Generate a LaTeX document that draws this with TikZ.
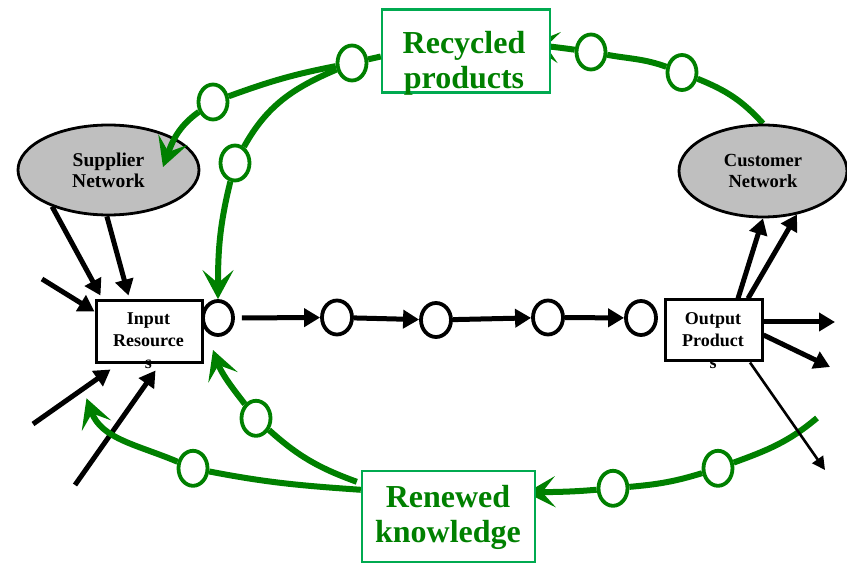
\documentclass[tikz,border=0pt]{standalone}
\usepackage{fontspec}
\setmainfont{Liberation Serif}
\usetikzlibrary{arrows.meta,shapes.geometric,backgrounds}

\definecolor{leafgreen}{RGB}{0,128,0}
\definecolor{framegreen}{RGB}{0,170,80}

\begin{document}
\begin{tikzpicture}[x=1pt,y=1pt,
  blk/.style={line width=5pt, -{Triangle[length=16pt,width=18pt]}},
  thinblk/.style={line width=2.6pt, -{Triangle[length=13pt,width=13pt]}},
  grn/.style={line width=6pt, leafgreen, -{Stealth[length=29pt,width=31pt,inset=13pt]}},
  grnplain/.style={line width=6pt, leafgreen},
  stage/.style={ellipse, draw, line width=3.8pt, fill=white, minimum width=30pt, minimum height=34pt, inner sep=0pt},
  gstage/.style={stage, draw=leafgreen, minimum width=29pt, minimum height=35pt},
  net/.style={ellipse, draw, line width=2.8pt, fill=gray!50, inner sep=0pt, align=center, font=\bfseries\fontsize{19.5}{21}\selectfont},
  endbox/.style={draw, line width=3pt, fill=white, inner sep=0pt},
  endtext/.style={align=center, font=\bfseries\fontsize{18}{22}\selectfont},
  gbox/.style={draw=framegreen, line width=2.4pt, fill=white, inner sep=0pt},
  gtext/.style={align=center, text=leafgreen, font=\bfseries\fontsize{32}{35}\selectfont}]
  \useasboundingbox (0,0) rectangle (847,563);

  % boxes and networks
  \node[gbox, minimum width=168, minimum height=83] (rec) at (466,512) {};
  \node[gtext] (rectext) at (464,500) {Recycled\\products};
  \node[gbox, minimum width=173, minimum height=91] (ren) at (448.5,46.5) {};
  \node[gtext] (rentext) at (448,45.5) {Renewed\\knowledge};
  \node[net, minimum width=181, minimum height=90] (sup) at (108.5,393) {Supplier\\Network};
  \node[net, minimum width=168, minimum height=92, font=\bfseries\fontsize{18.5}{21}\selectfont] (cust) at (763,392) {Customer\\Network};
  \node[endbox, minimum width=106, minimum height=62] (inp) at (149,231) {};
  \node[endtext] (inptext) at (148.5,222) {Input\\Resource\\s};
  \node[endbox, minimum width=97, minimum height=61] (outp) at (713.5,232.5) {};
  \node[endtext] (outtext) at (713,222) {Output\\Product\\s};

  % stages
  \node[stage] (c1) at (218,245) {};
  \node[stage] (c2) at (337,245.5) {};
  \node[stage] (c3) at (436,243) {};
  \node[stage] (c4) at (548,245.5) {};
  \node[stage] (c5) at (641,245) {};
  \node[gstage] (gc0) at (352,500) {};
  \node[gstage] (gc1) at (213,461) {};
  \node[gstage] (gc2) at (235,400) {};
  \node[gstage] (gc3) at (591,511) {};
  \node[gstage] (gc4) at (682,490.5) {};
  \node[gstage] (gb1) at (718,94.7) {};
  \node[gstage] (gb2) at (613,74.7) {};
  \node[gstage] (gb3) at (193,94.7) {};
  \node[gstage] (gb4) at (256,144.7) {};

  % free ends
  \coordinate (in1) at (42,284);
  \coordinate (in4) at (33,139);
  \coordinate (in5) at (75,78);
  \coordinate (out1) at (835,241);
  \coordinate (out2) at (830,196);
  \coordinate (out3) at (825,93);
  \coordinate (recin) at ([shift={(-21,6.5)}]rec.east);
  \coordinate (recout) at ([yshift=-5.5]rec.west);
  \coordinate (supin) at ([shift={(54.5,3)}]sup.center);
  \coordinate (renin) at ([shift={(-10,-23)}]ren.north east);
  \coordinate (renout) at ([yshift=-20]ren.north west);
  \coordinate (renout2) at ([shift={(-4,-12)}]ren.north west);
  \coordinate (gstart) at (817,145);
  \coordinate (back1) at (86.5,164.7);
  \coordinate (back2) at (213,213);

  % material flow
  \draw[blk, shorten <=7pt] (c1) -- (c2);
  \draw[blk] (c2) -- (c3);
  \draw[blk] (c3) -- (c4);
  \draw[blk] (c4) -- (c5);

  \draw[blk] (in1) -- ([yshift=-12]inp.north west);
  \draw[blk] (sup.213) -- ([shift={(6,4)}]inp.north west);
  \draw[blk] (sup.268) -- ([shift={(34,4)}]inp.north west);
  \draw[blk] (in4) -- ([shift={(16,-5)}]inp.south west);
  \draw[blk] (in5) -- ([shift={(61,-6)}]inp.south west);

  \draw[blk] ([yshift=8.5]outp.east) -- (out1);
  \draw[blk] ([yshift=-4.5]outp.east) -- (out2);
  \draw[thinblk] ([xshift=36.5]outp.south) -- (out3);
  \draw[blk] ([xshift=24.5]outp.north) -- (cust.south);
  \draw[blk] ([xshift=34.5]outp.north) -- (cust.308);

  % loops
  \begin{scope}[on background layer]
    \draw[grn] (cust.north) to[out=132,in=-22] (gc4) to[out=160,in=-10] (gc3) to[out=172,in=-6] (recin);
    \draw[grn] (gstart) to[out=220,in=20] (gb1) to[out=197,in=5] (gb2) to[out=185,in=2] (renin);
  \end{scope}
  \draw[grnplain] (recout) -- (gc0);
  \draw[grn] (gc0) to[out=191,in=20] (gc1) to[out=215,in=70] (supin);
  \draw[grn] (gc0) to[out=203,in=61] (gc2) to[out=256,in=90] (c1);
  \draw[grn] (renout) to[out=176,in=-11] (gb3) to[out=157,in=-70] (back1);
  \draw[grn] (renout2) to[out=160,in=-42] (gb4) to[out=128,in=-70] (back2);
\end{tikzpicture}
\end{document}
